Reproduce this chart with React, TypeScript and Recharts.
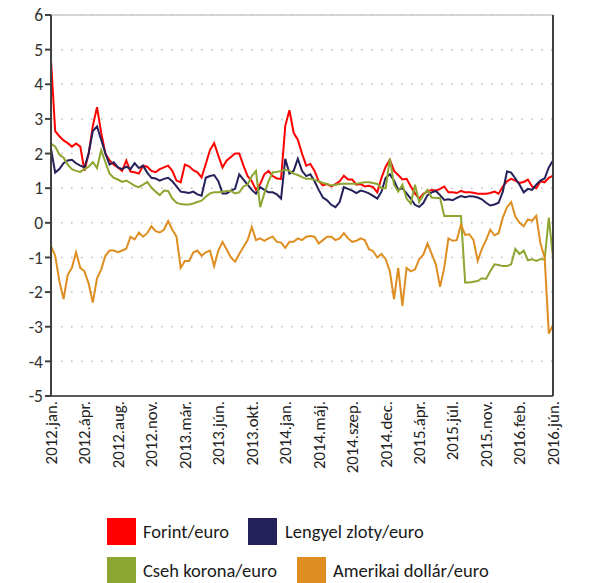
import React from "react";
import { LineChart, Line, XAxis, YAxis, CartesianGrid, ReferenceLine } from "recharts";

const tickLabels = [
  "2012.jan.", "2012.ápr.", "2012.aug.", "2012.nov.", "2013.már.", "2013.jún.",
  "2013.okt.", "2014.jan.", "2014.máj.", "2014.szep.", "2014.dec.", "2015.ápr.",
  "2015.júl.", "2015.nov.", "2016.feb.", "2016.jún.",
];
const pointsPerLabel = 8;

const yTicks = [-5, -4, -3, -2, -1, 0, 1, 2, 3, 4, 5, 6];

const forint = [
  4.7, 2.65, 2.5, 2.38, 2.3, 2.2, 2.29, 2.2, 1.5, 2.0,
  2.8, 3.34, 2.6, 2.0, 1.8, 1.68, 1.6, 1.5, 1.8, 1.48,
  1.46, 1.42, 1.65, 1.62, 1.5, 1.46, 1.55, 1.6, 1.65, 1.5,
  1.22, 1.17, 1.68, 1.63, 1.52, 1.46, 1.31, 1.7, 2.1, 2.3,
  1.94, 1.6, 1.8, 1.9, 2.0, 2.0, 1.65, 1.35, 1.2, 0.95,
  1.12, 1.4, 1.5, 1.35, 1.28, 1.27, 2.8, 3.25, 2.6, 2.4,
  2.0, 1.65, 1.7, 1.5, 1.2, 1.08, 1.12, 1.05, 1.12, 1.2,
  1.36, 1.25, 1.25, 1.1, 1.12, 1.05, 1.07, 1.03, 0.88, 1.3,
  1.62, 1.82, 1.5, 1.38, 1.25, 1.27, 1.05, 0.85, 0.7, 0.84,
  0.9, 0.95, 0.93, 0.98, 1.05, 0.88, 0.88, 0.86, 0.92, 0.88,
  0.88, 0.87, 0.84, 0.84, 0.84, 0.86, 0.9, 0.84, 1.05, 1.2,
  1.27, 1.22, 1.15, 1.18, 1.25, 1.05, 1.0, 1.2, 1.17, 1.3,
  1.36,
];

const zloty = [
  2.14, 1.45, 1.55, 1.72, 1.8, 1.82, 1.72, 1.65, 1.6, 2.0,
  2.65, 2.78, 2.4, 2.0, 1.68, 1.75, 1.6, 1.55, 1.62, 1.55,
  1.72, 1.58, 1.65, 1.45, 1.3, 1.28, 1.22, 1.27, 1.3, 1.2,
  1.05, 0.9, 0.88, 0.86, 0.9, 0.82, 0.78, 1.3, 1.35, 1.38,
  1.2, 0.85, 0.85, 0.93, 0.98, 1.4, 1.25, 1.1, 0.95, 0.84,
  1.03, 0.95, 0.88, 0.88, 0.82, 0.7, 1.85, 1.42, 1.5, 1.85,
  1.5, 1.35, 1.4, 1.2, 0.95, 0.73, 0.65, 0.52, 0.45, 0.6,
  1.03, 0.98, 0.93, 0.86, 0.93, 0.9, 0.85, 0.78, 0.7, 0.9,
  1.3, 1.4, 1.22, 0.95, 1.0, 0.85, 0.7, 0.52, 0.46, 0.57,
  0.8, 0.88, 0.92, 0.8, 0.66, 0.68, 0.65, 0.72, 0.77, 0.74,
  0.77, 0.76, 0.73, 0.68, 0.58, 0.5, 0.53, 0.58, 0.9, 1.48,
  1.45, 1.28, 1.1, 0.88, 0.98, 0.95, 1.1, 1.22, 1.28, 1.6,
  1.8,
];

const korona = [
  2.29, 2.2, 1.97, 1.88, 1.68, 1.55, 1.5, 1.47, 1.55, 1.62,
  1.75, 1.58, 2.1, 1.75, 1.42, 1.3, 1.25, 1.18, 1.22, 1.15,
  1.07, 1.03, 1.1, 1.18, 1.02, 0.9, 0.8, 0.93, 0.92, 0.7,
  0.58, 0.54, 0.53, 0.53, 0.56, 0.6, 0.64, 0.75, 0.85, 0.88,
  0.88, 0.9, 0.92, 0.92, 0.85, 0.88, 1.05, 1.1, 1.35, 1.5,
  0.45, 0.85, 1.2, 1.46, 1.47, 1.5, 1.53, 1.5, 1.42, 1.38,
  1.32, 1.27, 1.27, 1.24, 1.2, 1.15, 1.12, 1.08, 1.1, 1.12,
  1.13, 1.13, 1.13, 1.13, 1.15, 1.17, 1.17, 1.15, 1.12, 1.0,
  1.0, 1.85, 1.1, 0.9, 1.1, 0.7, 0.55, 1.1, 0.6, 0.8,
  0.95, 0.73, 0.72, 0.72, 0.2, 0.2, 0.2, 0.2, 0.2, -1.72,
  -1.72, -1.7, -1.68, -1.6, -1.62, -1.4, -1.2, -1.22, -1.25, -1.25,
  -1.2, -0.75, -0.9, -0.8, -1.08, -1.05, -1.1, -1.05, -1.05, 0.15,
  -1.0,
];

const dollar = [
  -0.67, -0.95, -1.68, -2.2, -1.5, -1.3, -0.85, -1.3, -1.4, -1.75,
  -2.3, -1.6, -1.35, -0.95, -0.8, -0.8, -0.85, -0.8, -0.75, -0.4,
  -0.48, -0.28, -0.4, -0.3, -0.1, -0.24, -0.28, -0.2, 0.05, -0.2,
  -0.4, -1.3, -1.1, -1.1, -0.86, -0.8, -0.95, -0.85, -0.8, -1.25,
  -0.8, -0.55, -0.77, -1.0, -1.12, -0.9, -0.7, -0.5, -0.12, -0.5,
  -0.45, -0.52, -0.45, -0.4, -0.55, -0.57, -0.72, -0.55, -0.55, -0.45,
  -0.5, -0.4, -0.38, -0.4, -0.6, -0.5, -0.4, -0.4, -0.5, -0.45,
  -0.3, -0.45, -0.55, -0.52, -0.45, -0.5, -0.76, -0.82, -1.0, -0.9,
  -1.05, -1.4, -2.2, -1.3, -2.4, -1.3, -1.4, -1.35, -1.05, -0.92,
  -0.6, -0.9, -1.2, -1.85, -1.3, -0.45, -0.52, -0.5, -0.05, -0.35,
  -0.33, -0.5, -1.1, -0.75, -0.5, -0.2, -0.36, -0.3, 0.15, 0.45,
  0.6, 0.18, 0.0, -0.1, 0.1, 0.06, 0.2, -0.6, -1.0, -3.2,
  -2.95,
];

const seriesNames = ["Forint/euro", "Lengyel zloty/euro", "Cseh korona/euro", "Amerikai dollár/euro"];
const colors = ["#ff0000", "#24215a", "#8da531", "#de8e20"];

const data = forint.map((v, i) => ({
  i,
  forint: v,
  zloty: zloty[i],
  korona: korona[i],
  dollar: dollar[i],
}));

const xTicks = tickLabels.map((_, k) => k * pointsPerLabel);
const FONT = "Carlito, Calibri, Lato, 'Liberation Sans', sans-serif";

const XTick = (props: any) => {
  const { x, y, payload } = props;
  const label = tickLabels[Math.round(payload.value / pointsPerLabel)];
  return (
    <text
      x={x}
      y={y}
      transform={`rotate(-90 ${x} ${y})`}
      textAnchor="end"
      dy="0.35em"
      fontSize={16.8}
      fontFamily={FONT}
      fill="#222"
    >
      {label}
    </text>
  );
};

const legendItems = [
  { name: seriesNames[0], color: colors[0], left: 99, top: 510, textLeft: 135 },
  { name: seriesNames[1], color: colors[1], left: 240, top: 510, textLeft: 277 },
  { name: seriesNames[2], color: colors[2], left: 99, top: 549, textLeft: 135 },
  { name: seriesNames[3], color: colors[3], left: 289, top: 549, textLeft: 325 },
];

export default function App() {
  const axisTick = { fontSize: 17.5, fontFamily: FONT, fill: "#333" };
  return (
    <div style={{ position: "relative", width: 579, height: 575, fontFamily: FONT }}>
      <style>{`.recharts-surface { overflow: visible; }`}</style>
      <LineChart
        width={579}
        height={500}
        data={data}
        margin={{ top: 7, right: 0, bottom: 12, left: 0 }}
      >
        <CartesianGrid
          yAxisId="left"
          vertical={false}
          stroke="#bdbdbd"
          strokeWidth={1.5}
          strokeDasharray="1.5 8.5"
        />
        <ReferenceLine yAxisId="left" y={6} stroke="#c8c8c8" strokeWidth={1.5} />
        <XAxis
          type="number"
          dataKey="i"
          domain={[0, 120]}
          ticks={xTicks}
          interval={0}
          tickLine={false}
          tickSize={3}
          tickMargin={2}
          axisLine={{ stroke: "#595959", strokeWidth: 2 }}
          height={100}
          tick={<XTick />}
        />
        <YAxis
          yAxisId="left"
          orientation="left"
          domain={[-5, 6]}
          ticks={yTicks}
          interval={0}
          width={43}
          tickSize={6}
          tickMargin={2}
          axisLine={{ stroke: "#404040", strokeWidth: 2 }}
          tickLine={{ stroke: "#404040", strokeWidth: 2 }}
          tick={axisTick}
        />
        <YAxis
          yAxisId="right"
          orientation="right"
          domain={[-5, 6]}
          ticks={yTicks}
          interval={0}
          width={34}
          tickSize={6}
          tickMargin={3}
          axisLine={{ stroke: "#404040", strokeWidth: 2 }}
          tickLine={{ stroke: "#404040", strokeWidth: 2 }}
          tick={axisTick}
        />
        <Line yAxisId="left" type="linear" dataKey="forint" name={seriesNames[0]} stroke={colors[0]} strokeWidth={2} dot={false} isAnimationActive={false} />
        <Line yAxisId="left" type="linear" dataKey="zloty" name={seriesNames[1]} stroke={colors[1]} strokeWidth={2} dot={false} isAnimationActive={false} />
        <Line yAxisId="left" type="linear" dataKey="korona" name={seriesNames[2]} stroke={colors[2]} strokeWidth={2} dot={false} isAnimationActive={false} />
        <Line yAxisId="left" type="linear" dataKey="dollar" name={seriesNames[3]} stroke={colors[3]} strokeWidth={2} dot={false} isAnimationActive={false} />
      </LineChart>
      {legendItems.map((it) => (
        <React.Fragment key={it.name}>
          <div
            style={{
              position: "absolute",
              left: it.left,
              top: it.top,
              width: 29,
              height: 27,
              background: it.color,
            }}
          />
          <div
            style={{
              position: "absolute",
              left: it.textLeft,
              top: it.top + 2,
              height: 24,
              lineHeight: "24px",
              fontSize: 18.5,
              color: "#1a1a1a",
              whiteSpace: "nowrap",
            }}
          >
            {it.name}
          </div>
        </React.Fragment>
      ))}
    </div>
  );
}
